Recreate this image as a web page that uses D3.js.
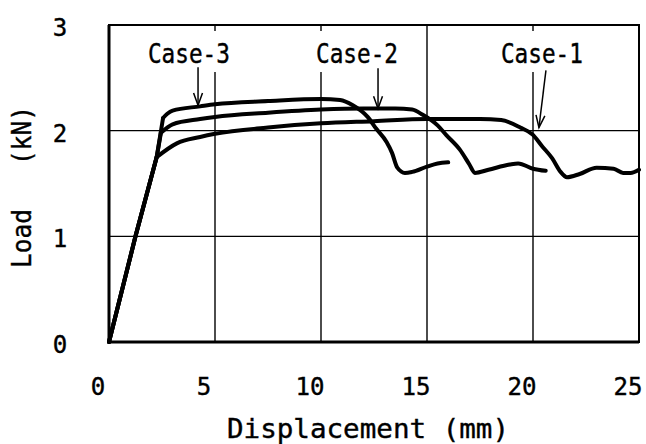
<!DOCTYPE html>
<html lang="en">
<head>
    <meta charset="UTF-8">
    <title>Load - Displacement</title>
    <script src="https://d3js.org/d3.v7.min.js"></script>
    <style>
        body { margin: 0; background: #fff; }
        text { font-family: "DejaVu Sans Mono", "Liberation Mono", monospace; fill: #000; stroke: #000; stroke-width: 0.4; white-space: pre; }
    </style>
</head>
<body>
    <script>
        // 数据 (mm, kN)
        var disp1 = [0, 1.25, 2.25, 3.2, 4.3, 5, 7.5, 10, 12.5, 15, 17.5, 18.5, 19.4, 20, 20.4, 20.9, 21.3, 21.6, 22.2, 23.0, 23.8, 24.25, 24.6, 25];
        var load1 = [0, 1.0, 1.75, 1.88, 1.94, 1.97, 2.03, 2.07, 2.09, 2.11, 2.11, 2.10, 2.03, 1.96, 1.86, 1.74, 1.61, 1.56, 1.59, 1.65, 1.64, 1.60, 1.60, 1.63];

        var disp2 = [0, 1.25, 2.25, 2.45, 3.0, 4.3, 5, 7.5, 10, 12, 13.5, 14.3, 14.8, 15.5, 15.9, 16.55, 17.0, 17.26, 17.9, 18.9, 19.3, 20, 20.6];
        var load2 = [0, 1.0, 1.75, 1.98, 2.06, 2.11, 2.13, 2.17, 2.20, 2.21, 2.21, 2.20, 2.15, 2.05, 1.96, 1.82, 1.68, 1.60, 1.63, 1.68, 1.69, 1.64, 1.62];

        var disp3 = [0, 1.25, 2.25, 2.55, 2.75, 3.0, 4.3, 5, 7.5, 10, 10.9, 11.5, 12.2, 12.6, 13.1, 13.35, 13.6, 13.96, 14.3, 15, 15.5, 16.0];
        var load3 = [0, 1.0, 1.75, 2.12, 2.16, 2.19, 2.23, 2.25, 2.28, 2.30, 2.29, 2.24, 2.13, 2.02, 1.89, 1.79, 1.65, 1.60, 1.61, 1.66, 1.69, 1.70];

        // 弹性段结束的位置 (之后为曲线)
        var kneeIndex = [2, 3, 3];

        var xTicks = [0, 5, 10, 15, 20, 25];
        var yTicks = [0, 1, 2, 3];

        // 注释: 标签位置和箭头 (数据坐标)
        var caseNames = ["Case-1", "Case-2", "Case-3"];
        var labelDisp = [20.42, 11.7, 3.77];
        var labelLoad = [2.64, 2.64, 2.64];
        var arrowFrom = [[20.61, 2.57], [12.69, 2.59], [4.2, 2.60]];
        var arrowTo = [[20.28, 2.03], [12.69, 2.21], [4.2, 2.24]];

        var width = 646, height = 444;
        var svg = d3.select("body").append("svg")
            .attr("width", width)
            .attr("height", height);

        svg.append("rect").attr("width", width).attr("height", height).attr("fill", "#fff");

        var x = d3.scaleLinear().domain([0, 25]).range([109, 639]);
        var y = d3.scaleLinear().domain([0, 3]).range([342, 25]);

        // 网格
        svg.append("g").selectAll("line")
            .data([5, 10, 15, 20])
            .enter().append("line")
            .attr("x1", function(d) { return x(d); })
            .attr("x2", function(d) { return x(d); })
            .attr("y1", y(0)).attr("y2", y(3))
            .attr("stroke", "#000").attr("stroke-width", 1.4);

        svg.append("g").selectAll("line")
            .data([1, 2])
            .enter().append("line")
            .attr("x1", x(0)).attr("x2", x(25))
            .attr("y1", function(d) { return y(d); })
            .attr("y2", function(d) { return y(d); })
            .attr("stroke", "#000").attr("stroke-width", 1.4);

        // 标签背景 (遮住网格线)
        caseNames.forEach(function(name, i) {
            svg.append("rect")
                .attr("x", x(labelDisp[i]) - 44)
                .attr("y", y(3) + 6)
                .attr("width", 88)
                .attr("height", 41)
                .attr("fill", "#fff");
        });

        // 边框
        svg.append("rect")
            .attr("x", x(0)).attr("y", y(3))
            .attr("width", x(25) - x(0)).attr("height", y(0) - y(3))
            .attr("fill", "none").attr("stroke", "#000").attr("stroke-width", 2);
        svg.append("path")
            .attr("d", "M" + x(0) + "," + y(3) + "V" + y(0) + "H" + x(25))
            .attr("fill", "none").attr("stroke", "#000").attr("stroke-width", 3);

        // 刻度标签
        svg.append("g").selectAll("text")
            .data(xTicks)
            .enter().append("text")
            .attr("x", function(d) { return x(d) - 11; })
            .attr("y", 395)
            .attr("text-anchor", "middle")
            .attr("font-size", 25)
            .attr("textLength", function(d) { return String(d).length * 14.5; })
            .attr("lengthAdjust", "spacingAndGlyphs")
            .text(function(d) { return d; });

        svg.append("g").selectAll("text")
            .data(yTicks)
            .enter().append("text")
            .attr("x", 60)
            .attr("y", function(d) { return y(d) + 11; })
            .attr("text-anchor", "middle")
            .attr("font-size", 25)
            .attr("textLength", 14.5)
            .attr("lengthAdjust", "spacingAndGlyphs")
            .text(function(d) { return d; });

        // 轴标题
        svg.append("text")
            .attr("x", 227).attr("y", 438)
            .attr("font-size", 27)
            .attr("textLength", 282)
            .attr("lengthAdjust", "spacingAndGlyphs")
            .text("Displacement (mm)");

        svg.append("text")
            .attr("transform", "translate(31,268) rotate(-90)")
            .attr("font-size", 27)
            .attr("textLength", 162)
            .attr("lengthAdjust", "spacingAndGlyphs")
            .text("Load   (kN)");

        // 曲线: 弹性段为直线, 之后平滑
        var straight = d3.line()
            .x(function(d) { return x(d[0]); })
            .y(function(d) { return y(d[1]); });
        var smooth = d3.line()
            .x(function(d) { return x(d[0]); })
            .y(function(d) { return y(d[1]); })
            .curve(d3.curveMonotoneX);

        var series = [[disp1, load1], [disp2, load2], [disp3, load3]];
        var curves = svg.append("g")
            .attr("fill", "none")
            .attr("stroke", "#000")
            .attr("stroke-width", 4)
            .attr("stroke-linejoin", "round")
            .attr("stroke-linecap", "round");

        series.forEach(function(s, i) {
            var pts = d3.zip(s[0], s[1]);
            var k = kneeIndex[i];
            curves.append("path").attr("d", straight(pts.slice(0, k + 1)));
            curves.append("path").attr("d", smooth(pts.slice(k)));
        });

        // 注释
        caseNames.forEach(function(name, i) {
            svg.append("text")
                .attr("x", x(labelDisp[i]))
                .attr("y", y(labelLoad[i]))
                .attr("text-anchor", "middle")
                .attr("font-size", 27)
                .attr("textLength", 82)
                .attr("lengthAdjust", "spacingAndGlyphs")
                .text(name);

            var x1 = x(arrowFrom[i][0]), y1 = y(arrowFrom[i][1]);
            var x2 = x(arrowTo[i][0]), y2 = y(arrowTo[i][1]);
            var a = Math.atan2(y2 - y1, x2 - x1);
            var len = 13, spread = 0.35;
            svg.append("line")
                .attr("x1", x1).attr("y1", y1).attr("x2", x2).attr("y2", y2)
                .attr("stroke", "#000").attr("stroke-width", 1.5);
            svg.append("path")
                .attr("d", "M" + (x2 - len * Math.cos(a - spread)) + "," + (y2 - len * Math.sin(a - spread)) +
                    "L" + x2 + "," + y2 +
                    "L" + (x2 - len * Math.cos(a + spread)) + "," + (y2 - len * Math.sin(a + spread)))
                .attr("fill", "none").attr("stroke", "#000").attr("stroke-width", 1.5);
        });
    </script>
</body>
</html>
